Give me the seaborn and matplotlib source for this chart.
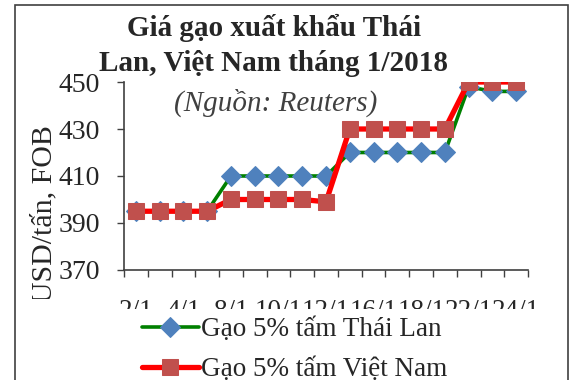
"""
Giá gạo xuất khẩu Thái Lan, Việt Nam tháng 1/2018
"""

import numpy as np
import pandas as pd
import seaborn as sns
import matplotlib.pyplot as plt
from matplotlib.patches import Rectangle
from matplotlib.transforms import Bbox, TransformedBbox

# --- Data ---
dates = ["2/1", "3/1", "4/1", "5/1", "8/1", "9/1", "10/1", "11/1", "12/1",
         "15/1", "16/1", "17/1", "18/1", "19/1", "22/1", "23/1", "24/1"]
thai = [395, 395, 395, 395, 410, 410, 410, 410, 410,
        420, 420, 420, 420, 420, 448, 446, 446]
vietnam = [395, 395, 395, 395, 400, 400, 400, 400, 399,
           430, 430, 430, 430, 430, 450, 450, 450]
y_ticks = [370, 390, 410, 430, 450]

df = pd.DataFrame({"Ngày": dates, "Thái Lan": thai, "Việt Nam": vietnam})
df["pos"] = np.arange(len(df))

sns.set_style("white")
plt.rcParams["font.family"] = ["Liberation Serif", "DejaVu Serif"]

fig = plt.figure(figsize=(5.74, 3.8), dpi=100)
ax = fig.add_axes((0.216, 0.2895, 0.704, 0.4947))

# --- Lines ---
sns.lineplot(data=df, x="pos", y="Thái Lan", ax=ax, color="#008000", lw=2.6,
             marker="D", markersize=10.5, markerfacecolor="#4F81BD",
             markeredgecolor="#4F81BD", label="Gạo 5% tấm Thái Lan",
             legend=False, zorder=3)
sns.lineplot(data=df, x="pos", y="Việt Nam", ax=ax, color="#FF0000", lw=3.8,
             marker="s", markersize=12, markerfacecolor="#C0504D",
             markeredgecolor="#C0504D", label="Gạo 5% tấm Việt Nam",
             legend=False, zorder=4)

# --- Axes styling ---
ax.set_ylim(370, 450)
ax.set_xlim(-0.5, len(dates) - 0.5)
ax.set_yticks(y_ticks)
ax.set_xticks(df["pos"][::2])
ax.set_xticklabels(dates[::2])
ax.set_xticks(np.arange(len(dates) + 1) - 0.5, minor=True)
ax.tick_params(axis="y", direction="out", length=5, width=1, color="#404040",
               labelsize=20, pad=12, left=True)
ax.tick_params(axis="x", which="major", length=0, labelsize=19.5, pad=21)
ax.tick_params(axis="x", which="minor", direction="out", length=5, width=1,
               color="#404040", bottom=True)
for side in ["top", "right"]:
    ax.spines[side].set_visible(False)
for side in ["left", "bottom"]:
    ax.spines[side].set_color("#404040")
    ax.spines[side].set_linewidth(1.2)
ax.set_xlabel("")
ax.set_ylabel("USD/tấn, FOB", fontsize=21.5)
ax.yaxis.set_label_coords(-0.165, 0.298)
ax.yaxis.label.set_clip_box(TransformedBbox(Bbox([[0, 0.213], [1, 1]]), fig.transFigure))
ax.yaxis.label.set_clip_on(True)

# date labels are cut off at the bottom in the source chart
label_clip = TransformedBbox(Bbox([[0, 0.187], [1, 1]]), fig.transFigure)
for lbl in ax.get_xticklabels():
    lbl.set_clip_box(label_clip)
    lbl.set_clip_on(True)

# --- Titles (kept under the markers) ---
ax.text(0.477, 0.926, "Giá gạo xuất khẩu Thái", transform=fig.transFigure,
        ha="center", va="center", fontsize=21, weight="bold", zorder=1)
ax.text(0.477, 0.832, "Lan, Việt Nam tháng 1/2018", transform=fig.transFigure,
        ha="center", va="center", fontsize=21, weight="bold", zorder=1)
ax.text(0.48, 0.729, "(Nguồn: Reuters)", transform=fig.transFigure,
        ha="center", va="center", fontsize=21, style="italic", color="#404040",
        zorder=1)

# --- Legend ---
leg = fig.legend(loc="upper left", bbox_to_anchor=(0.235, 0.183),
                 fontsize=19.5, frameon=False, borderpad=0.25, borderaxespad=0,
                 handlelength=2.1, handletextpad=0.1, labelspacing=0.55)

# --- Outer frame ---
fig.patches.append(Rectangle((15 / 574, -0.1), 553 / 574, 1.1 - 5 / 380,
                             transform=fig.transFigure, fill=False,
                             edgecolor="#404040", lw=1.2))

fig.savefig("out.png", dpi=100)
